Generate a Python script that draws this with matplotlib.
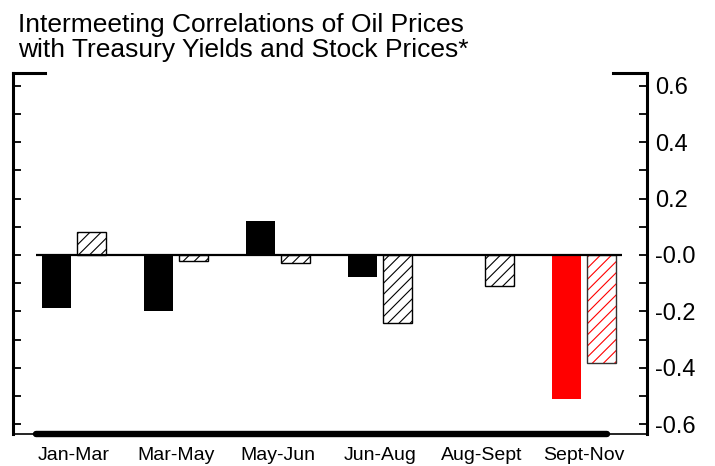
import matplotlib
matplotlib.use('Agg')
import matplotlib.pyplot as plt
import numpy as np

categories = ['Jan-Mar', 'Mar-May', 'May-Jun', 'Jun-Aug', 'Aug-Sept', 'Sept-Nov']
treasury = [-0.19, -0.20, 0.12, -0.08, 0.0, -0.51]
stocks = [0.08, -0.02, -0.03, -0.24, -0.11, -0.385]
ytick_major = [0.6, 0.4, 0.2, 0.0, -0.2, -0.4, -0.6]
ytick_labels = ['0.6', '0.4', '0.2', '-0.0', '-0.2', '-0.4', '-0.6']
ytick_minor = [0.5, 0.3, 0.1, -0.1, -0.3, -0.5]

plt.rcParams['font.family'] = ['Liberation Sans', 'DejaVu Sans']
plt.rcParams['hatch.linewidth'] = 0.8

W, H = 715, 466
fig = plt.figure(figsize=(W / 100, H / 100), dpi=100)
ax = fig.add_axes([13 / W, 32 / H, 634 / W, 361 / H])

xmin, xmax = -0.6, 5.62
ymin, ymax = -0.635, 0.645
ax.set_xlim(xmin, xmax)
ax.set_ylim(ymin, ymax)

x = np.arange(len(categories))
w = 0.285
off = 0.172
n = len(categories)
solid_colors = ['black'] * (n - 1) + ['red']
hatch_colors = ['black'] * (n - 1) + ['red']
hatch_edges = ['black'] * (n - 1) + ['#333333']

ax.bar(x - off, treasury, width=w, color=solid_colors, linewidth=0, zorder=2)
for i in range(n):
    ax.bar(x[i] + off, stocks[i], width=w, color='white', edgecolor=hatch_colors[i],
           hatch='///', linewidth=0, zorder=2)
    ax.bar(x[i] + off, stocks[i], width=w, fill=False, edgecolor=hatch_edges[i],
           linewidth=1.0, zorder=2.5)

# zero line
ax.plot([-0.37, 5.37], [0, 0], color='black', lw=1.6, zorder=3, solid_capstyle='butt')

# spines
for s in ['top', 'bottom']:
    ax.spines[s].set_visible(False)
for s in ['left', 'right']:
    ax.spines[s].set_linewidth(2.2)
    ax.spines[s].set_capstyle('projecting')

# top corner segments
ax.plot([xmin, -0.29], [ymax, ymax], color='black', lw=2.2, clip_on=False,
        solid_capstyle='projecting', zorder=4)
ax.plot([5.29, xmax], [ymax, ymax], color='black', lw=2.2, clip_on=False,
        solid_capstyle='projecting', zorder=4)
# bottom thin segments and thick axis line
ax.plot([xmin, xmax], [ymin, ymin], color='black', lw=1.2, clip_on=False, zorder=4)
ax.plot([-0.37, 5.23], [ymin, ymin], color='black', lw=4.6, clip_on=False,
        solid_capstyle='round', zorder=5)

ax.set_yticks(ytick_major)
ax.set_yticklabels(ytick_labels)
ax.set_yticks(ytick_minor, minor=True)
ax.tick_params(axis='y', which='both', direction='in', length=6, width=1.3,
               left=True, right=True, labelleft=False, labelright=True)
ax.tick_params(axis='y', which='major', labelsize=17, pad=6)

ax.set_xticks(x)
ax.set_xticklabels(categories, fontsize=14)
ax.tick_params(axis='x', length=0, pad=9)

fig.text(18 / W, 1 - 32 / H, 'Intermeeting Correlations of Oil Prices',
         fontsize=19, va='baseline', ha='left')
fig.text(18 / W, 1 - 57 / H, 'with Treasury Yields and Stock Prices*',
         fontsize=19, va='baseline', ha='left')

fig.savefig('out.png', dpi=100)
